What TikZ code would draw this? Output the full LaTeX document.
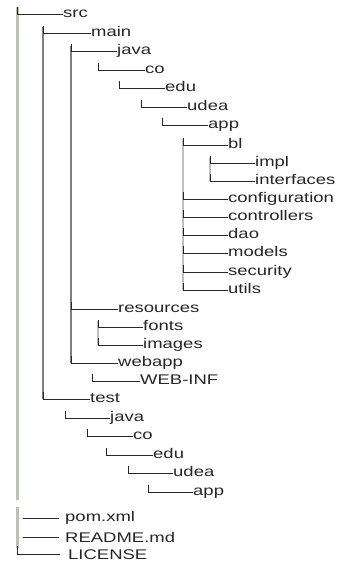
\documentclass[tikz,border=0pt]{standalone}
\usepackage{fontspec}
\setmainfont{Liberation Sans}[FakeStretch=1.32]
\begin{document}
\begin{tikzpicture}[x=1pt,y=-1pt,
  item/.style={anchor=west,inner sep=0pt,text height=7pt,text depth=0pt,
    font=\fontsize{14}{14}\selectfont,text=black!85},
  capitem/.style={item,text height=10pt},
  hline/.style={draw=black!85,line width=0.9pt},
  trunk/.style={draw={rgb,255:red,188;green,194;blue,178},line width=3pt},
  vdark/.style={draw=black!50,line width=1.6pt},
  vlight/.style={draw=black!25,line width=2.4pt}]
\useasboundingbox (0,0) rectangle (339,564);
\newcommand\leaf[5]{% name, column x, row y, text x, label
  \node[item] (#1) at (#4,#3) {#5};
  \coordinate (#1-k) at (#2,#3-7);
  \draw[hline] (#1-k) |- (#1.west);}

% vertical guide columns
\draw[trunk] (17,7) -- (17,500);
\draw[trunk] (17,507) -- (17,548);
\draw[vdark] (43,27) -- (43,399);
\draw[vdark] (71,46) -- (71,363);
\draw[vlight] (183,139) -- (183,290);
\draw[vlight] (210,157) -- (210,181);
\draw[vlight] (98,321) -- (98,345);

% main source tree
\leaf{src}{17}{14}{63}{src}
\leaf{main}{43}{33}{91}{main}
\leaf{java}{71}{51}{117}{java}
\leaf{co}{98}{70}{145}{co}
\leaf{edu}{119}{88}{165}{edu}
\leaf{udea}{141}{107}{187}{udea}
\leaf{app}{162}{125}{208}{app}
\leaf{bl}{183}{145}{228}{bl}
\leaf{impl}{210}{163}{255}{impl}
\leaf{interfaces}{210}{181}{255}{interfaces}
\leaf{configuration}{183}{199}{228}{configuration}
\leaf{controllers}{183}{217}{228}{controllers}
\leaf{dao}{183}{235}{228}{dao}
\leaf{models}{183}{253}{228}{models}
\leaf{security}{183}{272}{228}{security}
\leaf{utils}{183}{290}{228}{utils}
\leaf{resources}{71}{309}{118}{resources}
\leaf{fonts}{98}{327}{143}{fonts}
\leaf{images}{98}{345}{143}{images}
\leaf{webapp}{71}{363}{118}{webapp}
\leaf{webinf}{92}{381}{140}{WEB-INF}

% test tree
\leaf{test}{43}{399}{90}{test}
\leaf{tjava}{65}{418}{110}{java}
\leaf{tco}{87}{436}{133}{co}
\leaf{tedu}{106}{455}{153}{edu}
\leaf{tudea}{128}{473}{173}{udea}
\leaf{tapp}{148}{492}{193}{app}

% root files
\node[item] (pom) at (65,518) {pom.xml};
\node[capitem] (readme) at (65,537) {README.md};
\node[capitem] (license) at (68,554) {LICENSE};
\coordinate (pom-s) at (23,518);
\coordinate (readme-s) at (23,537);
\coordinate (license-k) at (17,546);
\draw[hline] (pom-s) -- ([xshift=-6pt]pom.west);
\draw[hline] (readme-s) -- ([xshift=-6pt]readme.west);
\draw[hline] (license-k) |- ([xshift=-8pt]license.west);
\end{tikzpicture}
\end{document}
